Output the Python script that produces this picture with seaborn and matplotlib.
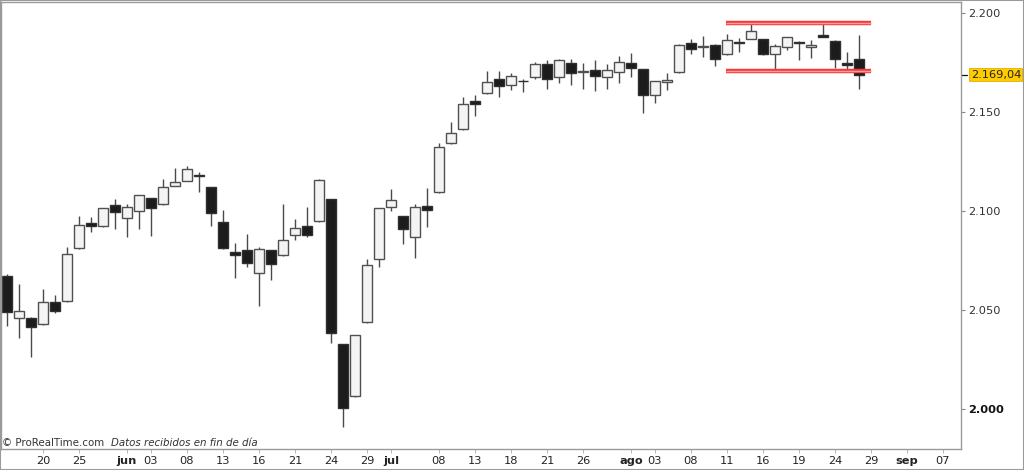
import numpy as np
import pandas as pd
import matplotlib
matplotlib.use("Agg")
import matplotlib.pyplot as plt
import seaborn as sns
from matplotlib.ticker import FuncFormatter
from matplotlib.patches import Rectangle

# daily candles, 17 May -> 26 Aug
opens = [2067.0, 2045.7, 2046.0, 2043.0, 2054.0, 2054.5, 2081.3, 2093.8, 2092.3, 2102.9,
         2096.3, 2100.0, 2106.4, 2103.4, 2112.8, 2115.2, 2118.2, 2112.0, 2094.3, 2079.1,
         2080.1, 2068.5, 2080.4, 2077.6, 2087.7, 2092.3, 2094.9, 2106.2, 2032.7, 2006.6,
         2043.9, 2075.6, 2101.9, 2097.3, 2086.7, 2102.7, 2109.6, 2134.2, 2141.3, 2155.6,
         2159.5, 2166.9, 2163.7, 2166.0, 2167.9, 2174.2, 2167.9, 2175.0, 2170.3, 2171.3,
         2167.6, 2170.2, 2174.9, 2171.7, 2158.7, 2165.3, 2170.2, 2184.8, 2182.9, 2183.8,
         2179.3, 2185.3, 2187.0, 2187.0, 2179.4, 2183.0, 2185.3, 2183.0, 2189.0, 2186.1,
         2174.9, 2176.7]
highs = [2068.0, 2063.0, 2046.5, 2060.5, 2057.5, 2082.0, 2097.5, 2096.8, 2101.8, 2106.0,
         2103.5, 2108.0, 2106.5, 2116.2, 2121.6, 2123.0, 2120.0, 2112.0, 2100.5, 2083.8,
         2088.4, 2082.0, 2080.5, 2103.4, 2096.0, 2102.2, 2116.0, 2106.3, 2033.0, 2037.5,
         2075.7, 2101.6, 2111.1, 2097.5, 2103.5, 2111.5, 2134.2, 2145.2, 2157.5, 2158.5,
         2170.8, 2170.8, 2169.7, 2166.8, 2175.5, 2176.4, 2177.0, 2177.0, 2174.7, 2176.5,
         2174.2, 2178.4, 2179.8, 2172.0, 2166.0, 2169.7, 2184.3, 2186.8, 2188.7, 2184.6,
         2189.5, 2187.6, 2194.5, 2187.2, 2184.3, 2188.0, 2186.1, 2186.3, 2194.5, 2186.3,
         2180.6, 2189.0]
lows = [2042.0, 2035.6, 2026.3, 2042.5, 2048.5, 2054.0, 2081.0, 2089.5, 2092.0, 2090.7,
        2087.0, 2090.7, 2087.5, 2103.0, 2112.5, 2115.0, 2109.8, 2092.3, 2080.6, 2066.3,
        2071.6, 2052.1, 2064.9, 2077.5, 2085.3, 2086.7, 2094.5, 2033.4, 1990.6, 2006.0,
        2043.5, 2071.8, 2100.2, 2083.2, 2076.1, 2091.8, 2109.0, 2134.0, 2141.0, 2148.2,
        2159.0, 2157.8, 2161.2, 2160.4, 2166.6, 2161.5, 2164.9, 2163.7, 2161.5, 2160.8,
        2161.5, 2164.9, 2167.6, 2149.4, 2154.6, 2161.0, 2170.0, 2179.3, 2177.7, 2173.2,
        2179.0, 2180.4, 2186.8, 2179.0, 2170.5, 2181.5, 2176.4, 2177.3, 2188.0, 2172.6,
        2171.2, 2161.6]
closes = [2049.1, 2049.6, 2041.2, 2054.1, 2049.4, 2078.1, 2092.8, 2092.3, 2101.4, 2099.3,
          2101.9, 2107.9, 2101.4, 2112.0, 2114.5, 2121.4, 2117.8, 2098.8, 2081.1, 2077.6,
          2073.5, 2080.6, 2073.2, 2085.5, 2091.2, 2087.7, 2115.8, 2038.4, 2000.2, 2037.3,
          2072.7, 2101.4, 2105.4, 2090.9, 2102.2, 2100.5, 2132.4, 2139.3, 2154.3, 2154.1,
          2165.4, 2163.2, 2168.4, 2165.6, 2174.2, 2166.9, 2176.4, 2170.0, 2170.7, 2168.4,
          2171.5, 2175.4, 2172.3, 2158.7, 2165.8, 2166.3, 2184.0, 2182.0, 2183.3, 2176.9,
          2186.5, 2185.0, 2191.0, 2179.3, 2183.3, 2187.9, 2185.0, 2184.1, 2188.0, 2176.9,
          2174.0, 2169.04]

# date axis labels (trading-day index -> text)
tick_pos = [3, 6, 10, 12, 15, 18, 21, 24, 27, 30, 32, 36, 39, 42, 45, 48,
            52, 54, 57, 60, 63, 66, 69, 72, 75, 78]
tick_txt = ["20", "25", "jun", "03", "08", "13", "16", "21", "24", "29", "jul", "08",
            "13", "18", "21", "26", "ago", "03", "08", "11", "16", "19", "24", "29",
            "sep", "07"]
months = ["jun", "jul", "ago", "sep"]

# drawn support / resistance lines: level, start index, end index
line_levels = [2195.2, 2170.7]
line_start = [59.9, 59.9]
line_end = [72.0, 72.0]

y_ticks = [2000, 2050, 2100, 2150, 2200]
last_price = 2169.04

df = pd.DataFrame({"open": opens, "high": highs, "low": lows, "close": closes})
df["x"] = np.arange(len(df))
df["up"] = df["close"] >= df["open"]

sns.set_theme(style="white")
plt.rcParams["font.family"] = ["DejaVu Sans"]

fig = plt.figure(figsize=(10.24, 4.70), dpi=100)
ax = fig.add_axes([1/1024, 20.7/470, 960/1024, 447.6/470])

# wicks
ax.vlines(df["x"], df["low"], df["high"], color="#4a4a4a", linewidth=1.0, zorder=1)

# bodies
w = 0.8
for up, face, edge in [(True, "#f4f4f4", "#505050"), (False, "#1c1c1c", "#303030")]:
    d = df[df["up"] == up]
    bottom = np.minimum(d["open"], d["close"])
    height = np.maximum((d["open"] - d["close"]).abs(), 0.35)
    ax.bar(d["x"], height, bottom=bottom, width=w, color=face, edgecolor=edge,
           linewidth=1.0, zorder=2)

# red lines
for lvl, x0, x1 in zip(line_levels, line_start, line_end):
    ax.hlines(lvl, x0, x1, color="#f23c3c", linewidth=3.2, zorder=3)
    ax.hlines(lvl, x0, x1, color="#ff9a9a", linewidth=1.0, zorder=4)

ax.set_xlim(-0.5, 79.5)
ax.set_ylim(1979.5, 2205.9)

# right price axis
ax.yaxis.tick_right()
ax.set_yticks(y_ticks)
ax.yaxis.set_major_formatter(FuncFormatter(lambda v, p: f"{v:,.0f}".replace(",", ".")))
ax.tick_params(axis="y", which="major", length=3, width=0.8, color="#888888",
               labelsize=8.2, labelcolor="#333333", pad=2, right=True)
for lab in ax.get_yticklabels():
    if lab.get_text() == "2.000":
        lab.set_fontweight("bold")
        lab.set_color("#111111")

# bottom date axis
ax.set_xticks(tick_pos)
ax.set_xticklabels(tick_txt)
ax.tick_params(axis="x", which="major", length=3, width=0.6, color="#aaaaaa",
               labelsize=8.2, labelcolor="#222222", pad=2, bottom=True)
for lab in ax.get_xticklabels():
    lab.set_family(["Liberation Sans Narrow", "DejaVu Sans"])
    if lab.get_text() in months:
        lab.set_fontweight("bold")

for s in ax.spines.values():
    s.set_color("#9a9a9a")
    s.set_linewidth(1.0)
ax.grid(False)

# last price tag
ax.annotate(f"{last_price:,.2f}".replace(",", "X").replace(".", ",").replace("X", "."),
            xy=(1.0, last_price), xycoords=("axes fraction", "data"),
            xytext=(7, 0), textcoords="offset points", va="center", ha="left",
            fontsize=8.2, color="#222222",
            bbox=dict(boxstyle="square,pad=0.12", fc="#ffcc00", ec="#e0b000", lw=0.6))
ax.plot([1.0, 1.006], [last_price, last_price], transform=ax.get_yaxis_transform(),
        color="#111111", lw=0.9, clip_on=False)

# footer text
fig.text(2/1024, (470 - 443)/470, "© ProRealTime.com", fontsize=7.4, color="#333333",
         va="center", ha="left")
fig.text(111/1024, (470 - 443)/470, "Datos recibidos en fin de día", fontsize=7.4,
         color="#333333", va="center", ha="left", style="italic")

fig.patches.append(Rectangle((0, 0), 1, 1, transform=fig.transFigure, fill=False,
                             edgecolor="#9a9a9a", linewidth=1.5))

fig.savefig("out.png", dpi=100)
